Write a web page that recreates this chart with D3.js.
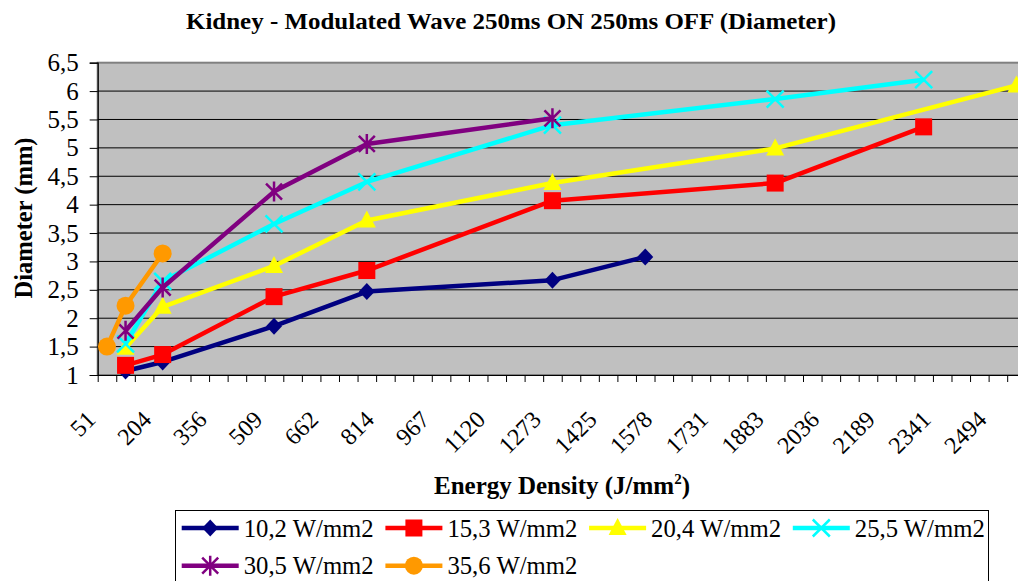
<!DOCTYPE html>
<html>
<head>
<meta charset="utf-8">
<script src="https://cdn.jsdelivr.net/npm/d3@7"></script>
<style>
  body { margin: 0; background: #fff; }
  svg text { font-family: "Times New Roman", "Liberation Serif", Times, "DejaVu Serif", serif; }
</style>
</head>
<body>
<div id="chart"></div>
<script>
// Data
var categoryStep = 50.9; // J/mm2 per category on the axis
var energy = [50.9, 101.8, 203.6, 509, 763.5, 1272.5, 1527, 1883.3, 2290.5, 2545];

var seriesNames = ["10,2 W/mm2", "15,3 W/mm2", "20,4 W/mm2", "25,5 W/mm2", "30,5 W/mm2", "35,6 W/mm2"];
var seriesColors = ["#000080", "#ff0000", "#ffff00", "#00ffff", "#800080", "#ff9900"];
var seriesMarkers = ["diamond", "square", "triangle", "x", "star", "circle"];

var s102 = [null, 1.07, 1.23, 1.86, 2.47, 2.67, 3.08, null, null, null];
var s153 = [null, 1.17, 1.36, 2.38, 2.84, 4.07, null, 4.38, 5.37, null];
var s204 = [null, 1.48, 2.20, 2.92, 3.72, 4.38, null, 4.99, null, 6.10];
var s255 = [null, 1.55, 2.65, 3.66, 4.40, 5.40, null, 5.86, 6.20, null];
var s305 = [null, 1.78, 2.54, 4.23, 5.07, 5.52, null, null, null, null];
var s356 = [1.50, 2.22, 3.14, null, null, null, null, null, null, null];
var seriesValues = [s102, s153, s204, s255, s305, s356];

var tickEnergy = [50.9, 203.6, 356.3, 509, 661.7, 814.4, 967.1, 1119.8, 1272.5, 1425.2,
                  1577.9, 1730.6, 1883.3, 2036, 2188.7, 2341.4, 2494.1];
var tickLabels = ["51", "204", "356", "509", "662", "814", "967", "1120", "1273", "1425",
                  "1578", "1731", "1883", "2036", "2189", "2341", "2494"];
var yTicks = [1, 1.5, 2, 2.5, 3, 3.5, 4, 4.5, 5, 5.5, 6, 6.5];

// Layout
var svgWidth = 1018;
var svgHeight = 581;
var plot = { left: 97.7, top: 62.7, bottom: 375, right: 1044.3 };
var nCategories = 51;

var svg = d3.select("#chart")
    .append("svg")
    .attr("width", svgWidth)
    .attr("height", svgHeight);

var x = d3.scaleLinear()
    .domain([categoryStep * 0.5, categoryStep * (nCategories + 0.5)])
    .range([plot.left, plot.right]);

var y = d3.scaleLinear()
    .domain([1, 6.5])
    .range([plot.bottom, plot.top]);

// Title
svg.append("text")
    .attr("x", 511)
    .attr("y", 29)
    .attr("text-anchor", "middle")
    .attr("textLength", 650)
    .attr("lengthAdjust", "spacingAndGlyphs")
    .style("font-size", "24px")
    .style("font-weight", "bold")
    .text("Kidney - Modulated Wave 250ms ON 250ms OFF (Diameter)");

// Plot area
svg.append("rect")
    .attr("x", plot.left)
    .attr("y", plot.top)
    .attr("width", plot.right - plot.left)
    .attr("height", plot.bottom - plot.top)
    .attr("fill", "#c0c0c0")
    .attr("stroke", "#808080")
    .attr("stroke-width", 2);

// Gridlines
svg.append("g")
    .selectAll("line")
    .data(yTicks.filter(function(v) { return v > 1 && v < 6.5; }))
    .enter()
    .append("line")
    .attr("x1", plot.left)
    .attr("x2", plot.right)
    .attr("y1", function(d) { return y(d); })
    .attr("y2", function(d) { return y(d); })
    .attr("stroke", "#000")
    .attr("stroke-width", 1);

// Y axis
var leftAxis = d3.axisLeft(y)
    .tickValues(yTicks)
    .tickSize(8)
    .tickPadding(11)
    .tickFormat(function(d) { return String(d).replace(".", ","); });

var yAxisG = svg.append("g")
    .attr("transform", `translate(${plot.left}, 0)`)
    .call(leftAxis)
    .attr("font-family", null)
    .attr("font-size", null);
yAxisG.select(".domain").attr("stroke", "#000").attr("stroke-width", 1.2);
yAxisG.selectAll("text")
    .style("font-size", "25px")
    .attr("fill", "#000");

// X axis: tick marks on category boundaries
var boundaries = d3.range(0, nCategories + 1).map(function(i) { return categoryStep * (i + 0.5); });
var bottomAxis = d3.axisBottom(x)
    .tickValues(boundaries)
    .tickSize(7)
    .tickSizeOuter(0)
    .tickFormat("");

var xAxisG = svg.append("g")
    .attr("transform", `translate(0, ${plot.bottom})`)
    .call(bottomAxis);
xAxisG.select(".domain").attr("stroke", "#000").attr("stroke-width", 1.2);

// X tick labels, rotated
svg.append("g")
    .selectAll("text")
    .data(tickEnergy)
    .enter()
    .append("text")
    .attr("transform", function(d) { return `translate(${x(d) - 10}, 421) rotate(-45)`; })
    .attr("text-anchor", "end")
    .style("font-size", "24px")
    .text(function(d, i) { return tickLabels[i]; });

// Axis titles
var xTitle = svg.append("text")
    .attr("x", 562)
    .attr("y", 494)
    .attr("text-anchor", "middle")
    .style("font-size", "25px")
    .style("font-weight", "bold");
xTitle.append("tspan").text("Energy Density (J/mm");
xTitle.append("tspan").attr("dy", -10).style("font-size", "15px").text("2");
xTitle.append("tspan").attr("dy", 10).text(")");

svg.append("text")
    .attr("transform", "translate(32, 218) rotate(-90)")
    .attr("text-anchor", "middle")
    .attr("textLength", 161)
    .attr("lengthAdjust", "spacingAndGlyphs")
    .style("font-size", "25px")
    .style("font-weight", "bold")
    .text("Diameter (mm)");

// Markers
function drawMarker(g, type, color) {
    if (type === "diamond") {
        g.append("path").attr("d", "M0,-8.5L8,0L0,8.5L-8,0Z").attr("fill", color);
    } else if (type === "square") {
        g.append("rect").attr("x", -8.5).attr("y", -8.5).attr("width", 17).attr("height", 17).attr("fill", color);
    } else if (type === "triangle") {
        g.append("path").attr("d", "M0,-10L9,7L-9,7Z").attr("fill", color);
    } else if (type === "x") {
        g.append("path").attr("d", "M-8.5,-8.5L8.5,8.5M-8.5,8.5L8.5,-8.5")
            .attr("stroke", color).attr("stroke-width", 2.5).attr("fill", "none");
    } else if (type === "star") {
        g.append("path").attr("d", "M-8,-8L8,8M-8,8L8,-8M0,-10L0,10")
            .attr("stroke", color).attr("stroke-width", 2.5).attr("fill", "none");
    } else if (type === "circle") {
        g.append("circle").attr("r", 9).attr("fill", color);
    }
}

var line = d3.line()
    .x(function(d) { return x(d.x); })
    .y(function(d) { return y(d.y); });

seriesValues.forEach(function(vals, si) {
    var pts = [];
    vals.forEach(function(v, i) {
        if (v !== null) pts.push({ x: energy[i], y: v });
    });
    var g = svg.append("g");
    g.append("path")
        .datum(pts)
        .attr("d", line)
        .attr("fill", "none")
        .attr("stroke", seriesColors[si])
        .attr("stroke-width", 4.5)
        .attr("stroke-linejoin", "round");
    pts.forEach(function(p) {
        var m = g.append("g").attr("transform", `translate(${x(p.x)}, ${y(p.y)})`);
        drawMarker(m, seriesMarkers[si], seriesColors[si]);
    });
});

// Legend
var legend = svg.append("g");
legend.append("rect")
    .attr("x", 175.5)
    .attr("y", 510.5)
    .attr("width", 813)
    .attr("height", 100)
    .attr("fill", "#fff")
    .attr("stroke", "#000")
    .attr("stroke-width", 1);

seriesNames.forEach(function(name, i) {
    var col = i % 4;
    var row = Math.floor(i / 4);
    var lx = 181.7 + col * 203.7;
    var ly = 528 + row * 37.7;
    var item = legend.append("g").attr("transform", `translate(${lx}, ${ly})`);
    item.append("line")
        .attr("x1", 0).attr("x2", 57)
        .attr("y1", 0).attr("y2", 0)
        .attr("stroke", seriesColors[i])
        .attr("stroke-width", 4.5);
    var m = item.append("g").attr("transform", "translate(28.5, 0)");
    drawMarker(m, seriesMarkers[i], seriesColors[i]);
    item.append("text")
        .attr("x", 62)
        .attr("y", 0)
        .attr("dy", "0.35em")
        .attr("textLength", 130)
        .attr("lengthAdjust", "spacingAndGlyphs")
        .style("font-size", "25px")
        .text(name);
});
</script>
</body>
</html>
